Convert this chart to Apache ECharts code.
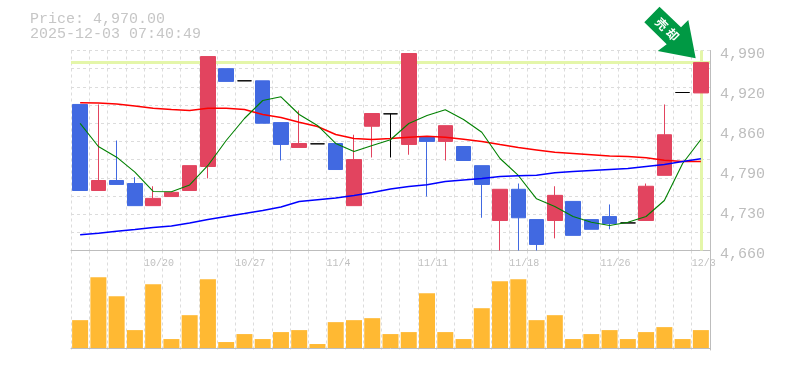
<!DOCTYPE html>
<html><head><meta charset="utf-8">
<style>html,body{margin:0;padding:0;background:#fff}#c{width:785px;height:370px}</style>
<script src="https://cdn.jsdelivr.net/npm/echarts@6/dist/echarts.min.js"></script>
</head><body><div id="c"></div>
<script>
const categories = ['10/14','10/15','10/16','10/17','10/20','10/21','10/22','10/23','10/24','10/27','10/28','10/29','10/30','10/31','11/4','11/5','11/6','11/7','11/10','11/11','11/12','11/13','11/14','11/17','11/18','11/19','11/20','11/21','11/25','11/26','11/27','11/28','12/1','12/2','12/3'];
const shownDates = ['10/20','10/27','11/4','11/11','11/18','11/26','12/3'];
const priceLabels = ['4,660','4,730','4,790','4,860','4,920','4,990'];
// open, close, low, high
const candles = [
[4901,4759,4759,4901],[4759,4775.5,4759,4901],[4775.5,4769,4769,4841.5],[4770.5,4734,4734,4781],[4734,4746,4734,4766],
[4749,4756,4749,4756],[4759,4800,4759,4800],[4798.6,4980,4779,4980],[4960,4939,4939,4960],[4940,4940,4940,4940],
[4940,4870,4870,4940],[4871,4835,4808.5,4871],[4830,4836.5,4830,4891],[4836,4836,4836,4836],[4836.5,4793.6,4793.6,4836.5],
[4734,4810,4734,4851],[4865,4886,4813.5,4886],[4885.5,4885.5,4813.5,4885.5],[4835,4985,4818,4985],[4846.5,4840,4749,4846.5],
[4840,4866,4808.5,4866],[4831.6,4808.5,4808.5,4831.6],[4800,4769,4714,4800],[4709.5,4761,4660,4761],[4761,4714,4660,4770.5],
[4711,4670,4660,4711],[4709.5,4751,4680,4766],[4741,4685,4685,4741],[4711,4695,4695,4711],[4716,4704.5,4695,4736],
[4705.5,4705.5,4705.5,4705.5],[4709.5,4766,4709.5,4770.5],[4784,4851,4784,4901],[4920.7,4920.7,4920.7,4920.7],[4920,4970,4920,4970]];
const maRed = [4903.7,4903.4,4901.7,4898.4,4894.8,4892.7,4891,4894.8,4894.8,4892.7,4884.4,4879.5,4871.7,4864.6,4851.4,4844.8,4843.2,4844.8,4847,4848.6,4847,4843.6,4839.9,4834.9,4830,4826,4822,4820,4818,4816,4815,4813,4809,4807,4807];
const maGreen = [4869.9,4831.6,4814,4789.2,4757.4,4756.9,4768.2,4800.3,4841.5,4877.8,4907.5,4913.6,4884.4,4866.3,4836.6,4823.4,4833.3,4842.7,4869.6,4882.8,4892.2,4876.2,4855.2,4811.8,4783.8,4745.3,4732.6,4716.1,4706.7,4701.3,4706.7,4716.1,4742.5,4803.6,4843.2];
const maBlue = [4686,4688.6,4691.9,4694.6,4698,4700.4,4705.4,4711.2,4716.1,4721,4726,4731.8,4740.9,4743.7,4746.6,4750.8,4755.7,4761.5,4765.6,4768.4,4773.9,4776.4,4778.8,4782.1,4783.4,4784.3,4788.2,4790.4,4792,4793.7,4795.3,4798.6,4801.9,4806.9,4811.3];
const volumes = [28,71,52,18,64,9,33,69,6,14,9,16,18,4,26,28,30,14,16,55,16,9,40,67,69,28,33,9,14,18,9,16,21,9,18];
const currentPrice = 4970;
const priceText = 'Price: 4,970.00';
const timeText = '2025-12-03 07:40:49';

const mono = '"Liberation Mono","DejaVu Sans Mono",monospace';
const dash = {show:true, lineStyle:{color:'#dcdcdc', type:[3,3], width:1}};
const solid = {show:true, lineStyle:{color:'#bdbdbd', width:1}};
const ma = (data,color,width)=>({type:'line',data,xAxisIndex:0,yAxisIndex:0,symbol:'none',z:4,silent:true,
  lineStyle:{color,width},itemStyle:{color}});

const chart = echarts.init(document.getElementById('c'),null,{renderer:'canvas'});
chart.setOption({
  animation:false, backgroundColor:'#fff',
  title:{text:priceText+'\n'+timeText,left:25,top:7,textStyle:{fontFamily:mono,fontSize:15,fontWeight:'normal',color:'#c6c6c6',lineHeight:15}},
  grid:[{left:71,top:50.5,width:639,height:200},{left:71,top:250.5,width:639,height:99.5}],
  xAxis:[
    {type:'category',gridIndex:0,data:categories,boundaryGap:true,axisLine:{show:false},axisTick:{show:false},axisLabel:{show:false},
     splitLine:Object.assign({interval:0},dash)},
    {type:'category',gridIndex:0,data:categories.concat(['']),boundaryGap:false,position:'bottom',axisLine:solid,axisTick:{show:false},
     axisLabel:{interval:0,align:'left',margin:8,fontFamily:mono,fontSize:10,color:'#c0c0c0',hideOverlap:false,showMinLabel:true,showMaxLabel:true,
       formatter:v=>shownDates.includes(v)?v:''},splitLine:{show:false}},
    {type:'category',gridIndex:1,data:categories,boundaryGap:true,axisLine:solid,axisTick:{show:false},axisLabel:{show:false},
     splitLine:Object.assign({interval:0},dash)}
  ],
  yAxis:[
    {type:'value',gridIndex:0,min:4660,max:4990,show:false,splitLine:{show:false}},
    {type:'value',gridIndex:0,min:0,max:11,interval:1,position:'left',axisLine:{show:false},axisTick:{show:false},axisLabel:{show:false},splitLine:dash},
    {type:'value',gridIndex:0,min:0,max:5,interval:1,position:'right',axisLine:solid,axisTick:{show:false},splitLine:{show:false},
     axisLabel:{margin:10,formatter:v=>'{p|'+priceLabels[v]+'}',
       rich:{p:{fontFamily:mono,fontSize:15,color:'#bdbdbd',padding:[7,0,0,0]}}}},
    {type:'value',gridIndex:1,min:-2,max:98,position:'right',axisLine:solid,axisTick:{show:false},axisLabel:{show:false},splitLine:{show:false}}
  ],
  series:[
    {type:'line',data:[],xAxisIndex:0,yAxisIndex:0,z:2,silent:true,
     markLine:{symbol:'none',silent:true,label:{show:false},z:2,lineStyle:{color:'#e4f6a9',width:3,type:'solid'},
       data:[{yAxis:currentPrice},{xAxis:categories[categories.length-1]}]}},
    {type:'candlestick',data:candles,xAxisIndex:0,yAxisIndex:0,barWidth:15,z:3,silent:true,
     itemStyle:{color:'#e2445f',borderColor:'#e2445f',color0:'#4169e1',borderColor0:'#4169e1',borderColorDoji:'#000',borderWidth:1}},
    ma(maRed,'#ff0000',1.5),ma(maGreen,'#008000',1.1),ma(maBlue,'#0000ff',1.5),
    {type:'bar',data:volumes,xAxisIndex:2,yAxisIndex:3,barWidth:16,silent:true,itemStyle:{color:'#ffb933'}}
  ],
  graphic:[
    {type:'polygon',z:10,silent:true,shape:{points:[[659.5,6.7],[644.3,22.3],[666.7,44.3],[657.7,51],[695.7,58.3],[688.3,20],[681,27.3]]},style:{fill:'#009944'}},
    {type:'text',z:11,silent:true,x:661.7,y:24,rotation:-Math.PI/4,style:{text:'売',fill:'#fff',font:'bold 12px "Noto Sans CJK JP"',align:'center',verticalAlign:'middle'}},
    {type:'text',z:11,silent:true,x:672.7,y:34.5,rotation:-Math.PI/4,style:{text:'却',fill:'#fff',font:'bold 12px "Noto Sans CJK JP"',align:'center',verticalAlign:'middle'}}
  ]
});
</script></body></html>
